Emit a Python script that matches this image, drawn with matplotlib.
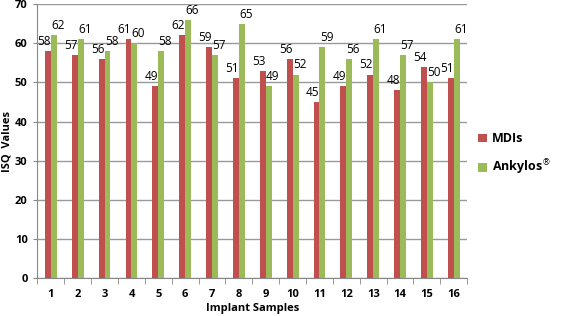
import matplotlib
matplotlib.use("Agg")
import matplotlib.pyplot as plt
import numpy as np

samples = [str(i) for i in range(1, 17)]
mdis = [58, 57, 56, 61, 49, 62, 59, 51, 53, 56, 45, 49, 52, 48, 54, 51]
ankylos = [62, 61, 58, 60, 58, 66, 57, 65, 49, 52, 59, 56, 61, 57, 50, 61]

plt.rcParams['font.family'] = ['Open Sans', 'DejaVu Sans']

fig = plt.figure(figsize=(5.67, 3.16), dpi=100)
ax = fig.add_axes([0.066, 0.12, 0.758, 0.867])

x = np.arange(len(samples))
w = 0.22
red = '#C0504D'
green = '#9BBB59'
ax.bar(x - w / 2, mdis, w, color=red, label='MDIs', zorder=3)
ax.bar(x + w / 2, ankylos, w, color=green, label='Ankylos$^{\\circledR}$', zorder=3)

for xi, v in zip(x, mdis):
    ax.text(xi - w / 2 - 0.15, v + 0.8, str(v), ha='center', va='bottom', fontsize=8.5, zorder=4)
for xi, v in zip(x, ankylos):
    ax.text(xi + w / 2 + 0.15, v + 0.8, str(v), ha='center', va='bottom', fontsize=8.5, zorder=4)

ax.set_xlim(-0.5, len(samples) - 0.5)
ax.set_ylim(0, 70)
ax.set_yticks(range(0, 71, 10))
ax.set_xticks(x)
ax.set_xticklabels(samples, fontsize=8, fontweight='bold')
ax.set_xticks(np.arange(-0.5, len(samples), 1), minor=True)
ax.tick_params(axis='x', which='major', length=0, pad=8)
ax.tick_params(axis='x', which='minor', length=4, color='#888888')
ax.tick_params(axis='y', length=3, labelsize=8, color='#888888', pad=4)
for lbl in ax.get_yticklabels():
    lbl.set_fontweight('bold')

ax.yaxis.grid(True, color='#999999', linewidth=1, zorder=0)
ax.spines['top'].set_visible(False)
ax.spines['right'].set_visible(False)
ax.spines['left'].set_color('#888888')
ax.spines['bottom'].set_color('#888888')

ax.set_xlabel('Implant Samples', fontsize=8, fontweight='bold', labelpad=2)
ax.set_ylabel('ISQ  Values', fontsize=8, fontweight='bold', labelpad=2)

ax.legend(loc='center left', bbox_to_anchor=(1.0, 0.45), frameon=False,
          handlelength=0.7, handleheight=0.7, handletextpad=0.4, labelspacing=1.0,
          prop={'weight': 'bold', 'size': 9})

fig.savefig('out.png', dpi=100)
